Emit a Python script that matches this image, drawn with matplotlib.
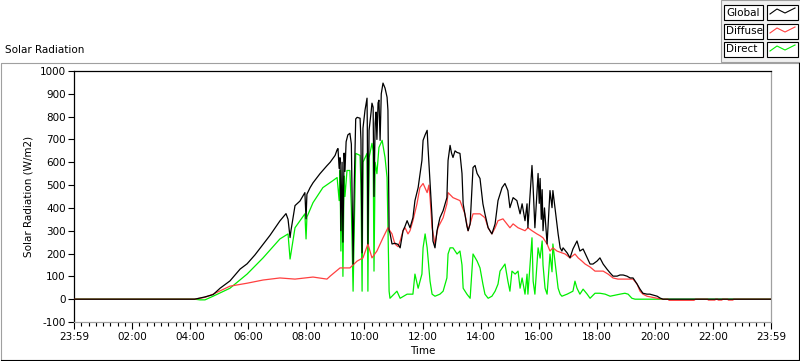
import matplotlib
matplotlib.use("Agg")
import matplotlib.pyplot as plt
from matplotlib.patches import Rectangle
from matplotlib.lines import Line2D

# hours since 23:59 of the previous day, W/m2
global_t = [0.00, 4.15, 4.34, 4.51, 4.79, 5.03, 5.37, 5.72, 5.96, 6.23, 6.51, 6.75,
            7.09, 7.30, 7.37, 7.44, 7.47, 7.61, 7.78, 7.95, 7.99, 8.02, 8.13, 8.23,
            8.47, 8.71, 8.82, 8.99, 9.06, 9.09, 9.13, 9.16, 9.19, 9.23, 9.26, 9.30,
            9.33, 9.37, 9.43, 9.50, 9.55, 9.57, 9.61, 9.65, 9.70, 9.75, 9.85, 9.88,
            9.92, 9.95, 10.02, 10.09, 10.10, 10.12, 10.16, 10.23, 10.26, 10.30, 10.33,
            10.37, 10.40, 10.43, 10.47, 10.50, 10.54, 10.58, 10.64, 10.71, 10.78,
            10.81, 10.85, 10.88, 10.95, 11.05, 11.16, 11.23, 11.33, 11.40, 11.47,
            11.57, 11.67, 11.74, 11.85, 11.98, 12.02, 12.09, 12.16, 12.19, 12.26,
            12.33, 12.36, 12.43, 12.50, 12.60, 12.71, 12.84, 12.88, 12.95, 13.00,
            13.05, 13.12, 13.19, 13.29, 13.36, 13.40, 13.46, 13.53, 13.57, 13.64,
            13.74, 13.81, 13.88, 13.98, 14.08, 14.15, 14.26, 14.39, 14.50, 14.60,
            14.74, 14.84, 14.94, 15.01, 15.12, 15.25, 15.36, 15.43, 15.53, 15.60,
            15.63, 15.77, 15.81, 15.87, 15.98, 16.02, 16.05, 16.09, 16.12, 16.15,
            16.20, 16.29, 16.39, 16.46, 16.49, 16.56, 16.67, 16.74, 16.80, 16.84,
            16.98, 17.08, 17.18, 17.32, 17.42, 17.53, 17.67, 17.77, 17.87, 18.01,
            18.11, 18.22, 18.35, 18.46, 18.56, 18.70, 18.80, 18.91, 19.04, 19.15,
            19.25, 19.39, 19.49, 19.59, 19.73, 19.83, 19.94, 20.08, 20.18, 20.28,
            24.00]
global_v = [0, 0, 5, 10, 20, 48, 80, 132, 155, 194, 240, 280,
            343, 375, 350, 270, 300, 410, 430, 467, 352, 460, 489, 510,
            550, 585, 600, 630, 655, 660, 573, 620, 300, 600, 250, 640,
            560, 690, 720, 727, 680, 500, 154, 500, 790, 797, 793, 700,
            203, 749, 828, 881, 750, 242, 740, 820, 859, 841, 450,
            771, 820, 700, 860, 872, 696, 900, 947, 925, 885,
            828, 300, 290, 242, 245, 240, 225, 300, 320, 344,
            313, 357, 432, 489, 608, 696, 720, 740, 665, 507,
            357, 255, 225, 300, 357, 388, 445, 608, 674, 640,
            621, 650, 643, 639, 551, 418, 374, 320, 300, 330,
            577, 586, 551, 529, 418, 374, 313, 286, 330, 432,
            489, 507, 476, 401, 445, 432, 374, 418, 344, 418,
            313, 586, 489, 313, 551, 420, 529, 350, 480, 300,
            400, 242, 476, 401, 476, 401, 286, 225, 211, 225,
            203, 181, 220, 255, 211, 220, 181, 154, 154, 167,
            181, 154, 132, 115, 101, 101, 106, 106, 101, 93,
            93, 66, 44, 26, 22, 22, 18, 13, 5, 0,
            0]

diffuse_t = [0.00, 4.15, 4.51, 4.79, 5.37, 5.96, 6.51, 7.09, 7.61, 8.23, 8.71, 8.82,
             9.16, 9.50, 9.75, 9.95, 10.12, 10.26, 10.43, 10.64, 10.81, 10.95, 11.05,
             11.16, 11.23, 11.33, 11.40, 11.50, 11.57, 11.67, 11.81, 11.91, 12.02,
             12.16, 12.22, 12.26, 12.33, 12.43, 12.53, 12.71, 12.84, 12.88, 13.05,
             13.29, 13.46, 13.57, 13.74, 13.98, 14.15, 14.26, 14.39, 14.50, 14.60,
             14.77, 15.01, 15.12, 15.29, 15.53, 15.63, 15.77, 15.94, 16.05, 16.15,
             16.29, 16.39, 16.49, 16.63, 16.80, 16.91, 17.08, 17.25, 17.36, 17.49,
             17.60, 17.77, 17.94, 18.22, 18.39, 18.56, 18.73, 18.91, 19.08, 19.25,
             19.39, 19.49, 19.59, 19.73, 20.08, 20.28, 20.45, 20.49, 21.35, 21.40,
             21.82, 21.84, 22.07, 22.09, 22.16, 22.18, 22.31, 22.33, 22.51, 22.53,
             22.69, 22.71, 24.00]
diffuse_v = [0, 0, 8, 22, 57, 70, 84, 93, 88, 97, 88, 101,
             137, 137, 167, 181, 242, 181, 211, 269, 313, 286, 242,
             230, 255, 300, 313, 286, 300, 344, 418, 489, 507,
             467, 500, 445, 313, 242, 313, 357, 418, 467, 445,
             432, 374, 300, 374, 374, 357, 313, 286, 313, 344,
             352, 313, 330, 313, 300, 313, 300, 286, 278, 269,
             242, 211, 225, 211, 203, 198, 181, 198, 181, 167,
             154, 141, 123, 123, 110, 93, 88, 88, 88, 88,
             66, 35, 22, 13, 4, 0, 0, -5, -5, 0,
             0, -4, -4, 0, 0, -4, -4, 0, 0, -4,
             -4, 0, 0]

direct_t = [0.00, 4.15, 4.34, 4.51, 4.79, 5.37, 5.96, 6.51, 7.09, 7.37, 7.44, 7.47,
            7.61, 7.95, 7.99, 8.02, 8.23, 8.57, 8.92, 9.06, 9.13, 9.16, 9.19, 9.23,
            9.26, 9.30, 9.33, 9.40, 9.50, 9.55, 9.61, 9.65, 9.70, 9.85, 9.88, 9.92,
            9.95, 10.09, 10.12, 10.16, 10.26, 10.30, 10.33, 10.37, 10.43, 10.50,
            10.61, 10.71, 10.78, 10.85, 10.88, 10.95, 11.12, 11.23, 11.47, 11.67,
            11.74, 11.85, 11.98, 12.02, 12.09, 12.16, 12.26, 12.33, 12.43, 12.60,
            12.71, 12.84, 12.88, 12.95, 13.05, 13.19, 13.29, 13.36, 13.40, 13.53,
            13.64, 13.74, 13.88, 13.98, 14.08, 14.15, 14.26, 14.39, 14.50, 14.60,
            14.67, 14.84, 14.94, 15.01, 15.08, 15.19, 15.29, 15.36, 15.43, 15.53,
            15.60, 15.63, 15.77, 15.81, 15.87, 15.98, 16.05, 16.12, 16.15, 16.22,
            16.29, 16.39, 16.46, 16.49, 16.56, 16.67, 16.74, 16.80, 16.98, 17.18,
            17.25, 17.32, 17.42, 17.53, 17.67, 17.77, 17.94, 18.11, 18.29, 18.46,
            18.80, 18.97, 19.08, 19.21, 19.32, 24.00]
direct_v = [0, 0, -3, -3, 13, 48, 110, 181, 264, 286, 176, 200,
            313, 374, 264, 360, 423, 489, 520, 533, 432, 564, 211, 500,
            100, 540, 450, 564, 564, 400, 35, 300, 639, 630, 500, 35,
            600, 639, 35, 620, 683, 650, 123, 600, 550, 665,
            696, 621, 533, 35, 4, 13, 35, 4, 22, 22,
            110, 48, 110, 225, 286, 225, 79, 22, 13, 22,
            35, 93, 198, 225, 225, 198, 211, 150, 48, 22,
            4, 198, 167, 137, 66, 22, 4, 13, 35, 66,
            123, 154, 79, 35, 123, 110, 123, 48, 93, 22,
            110, 22, 269, 79, 22, 225, 180, 255, 150, 48,
            22, 198, 120, 242, 167, 48, 22, 13, 22, 35,
            79, 48, 22, 44, 22, 4, 26, 26, 22, 13,
            22, 26, 22, 4, 0, 0]

x_ticks = [0, 2, 4, 6, 8, 10, 12, 14, 16, 18, 20, 22, 24]
x_labels = ["23:59", "02:00", "04:00", "06:00", "08:00", "10:00", "12:00",
            "14:00", "16:00", "18:00", "20:00", "22:00", "23:59"]
y_ticks = list(range(-100, 1001, 100))
series_names = ["Global", "Diffuse", "Direct"]
series_colors = ["#000000", "#ff4040", "#00ee00"]

W, H = 800, 361
plt.rcParams["font.family"] = ["DejaVu Sans"]
fig = plt.figure(figsize=(W / 100, H / 100), dpi=100)

# pixel-space overlay for the frame, title and legend
bg = fig.add_axes([0, 0, 1, 1])
bg.set_xlim(0, W)
bg.set_ylim(H, 0)
bg.axis("off")
bg.plot([0.5, 0.5, 799], [360, 62.5, 62.5], color="#a0a0a0", lw=0.8)
bg.plot([0.5, 799.3, 799.3], [359.5, 359.5, 62.5], color="#000000", lw=0.8)
bg.add_patch(Rectangle((720.5, 0), 80, 61.5, facecolor="#f0f0f0",
                       edgecolor="#a0a0a0", lw=0.8))
bg.text(5, 50, "Solar Radiation", fontsize=7.5, va="center", ha="left")

rows_y = [4, 23, 41]
for (ry, name, col) in zip(rows_y, series_names, series_colors):
    bg.add_patch(Rectangle((723.5, ry + 0.5), 39, 15, facecolor="white",
                           edgecolor="black", lw=0.8))
    bg.add_patch(Rectangle((766.5, ry + 0.5), 31, 15, facecolor="white",
                           edgecolor="black", lw=0.8))
    bg.text(726, ry + 8.5, name, fontsize=7.5, va="center", ha="left")
    bg.add_line(Line2D([770, 777, 785, 795], [ry + 10, ry + 5, ry + 9, ry + 4],
                       color=col, lw=0.8))

ax = fig.add_axes([74 / W, 1 - 322 / H, 697 / W, 251 / H])
ax.plot(direct_t, direct_v, color=series_colors[2], lw=0.9, zorder=2)
ax.plot(diffuse_t, diffuse_v, color=series_colors[1], lw=0.9, zorder=3)
ax.plot(global_t, global_v, color=series_colors[0], lw=0.9, zorder=4)

ax.set_xlim(0, 24)
ax.set_ylim(-100, 1000)
ax.set_xticks(x_ticks)
ax.set_xticklabels(x_labels)
ax.set_xticks([i * 0.25 for i in range(97)], minor=True)
ax.set_yticks(y_ticks)
ax.set_yticklabels([str(v) for v in y_ticks])
ax.tick_params(axis="both", labelsize=7.5, colors="black", direction="out")
ax.tick_params(axis="x", which="major", length=5, width=0.8, pad=2)
ax.tick_params(axis="x", which="minor", length=3, width=0.8)
ax.tick_params(axis="y", which="major", length=4, width=0.8, pad=2)
for side, col in (("left", "black"), ("top", "black"),
                  ("right", "#a0a0a0"), ("bottom", "#a0a0a0")):
    ax.spines[side].set_color(col)
    ax.spines[side].set_linewidth(0.9)
ax.set_xlabel("Time", fontsize=7.5, labelpad=3)
ax.set_ylabel("Solar Radiation (W/m2)", fontsize=7.5, labelpad=4)

fig.savefig("out.png", dpi=100)
